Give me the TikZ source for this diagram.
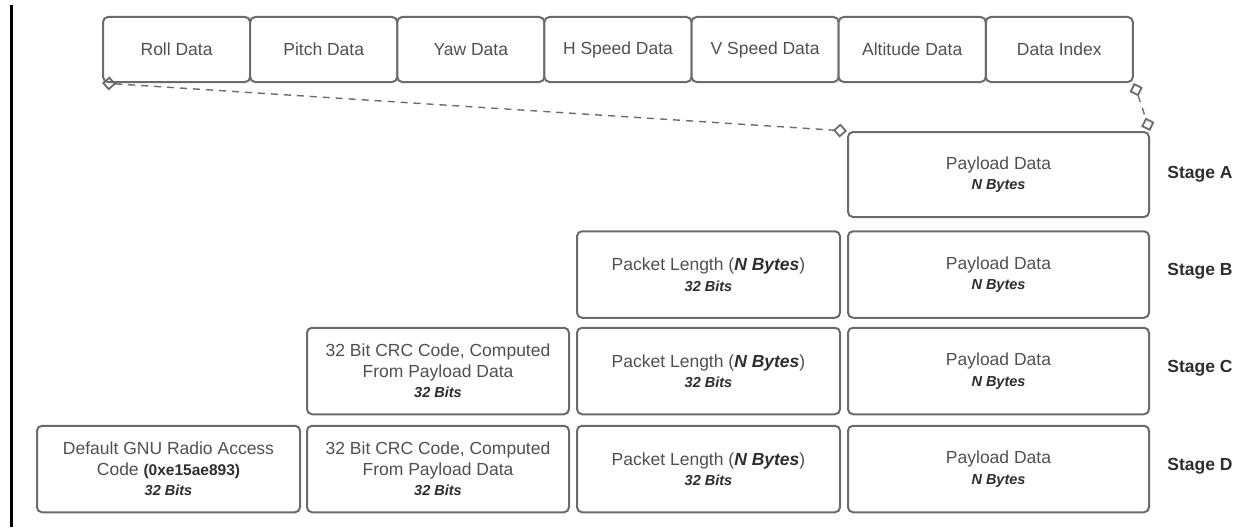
\documentclass[tikz,border=0pt]{standalone}
\usepackage{fontspec}
\setmainfont{Liberation Sans}
\usetikzlibrary{arrows.meta}
\definecolor{boxline}{HTML}{6B6B6B}
\definecolor{txt}{HTML}{505050}
\definecolor{dark}{HTML}{2E2E2E}
\newcommand{\subln}[1]{{\bfseries\itshape\fontsize{14.5}{17}\selectfont\color{dark}#1}}
\newcommand{\bi}[1]{{\bfseries\itshape\color{dark}#1}}
\newcommand{\codetxt}[1]{{\bfseries\fontsize{15.5}{18}\selectfont\color{dark}#1}}
\tikzset{
  field/.style={draw=boxline, line width=2pt, rounded corners=5pt, fill=white,
    align=center, text=txt, font=\fontsize{17.5}{20.5}\selectfont, inner sep=0pt},
  toprow/.style={field, minimum width=147.1pt, minimum height=65pt},
  rowbox/.style={field, minimum height=86.5pt},
  stagelbl/.style={font=\bfseries\fontsize{17.5}{20}\selectfont, text=dark},
  dtip/.tip={Diamond[open,length=14pt,width=14pt,line width=1.8pt]},
  conn/.style={draw=boxline, line width=1.4pt, dash pattern=on 7pt off 6pt, dtip-dtip}
}
\begin{document}
\begin{tikzpicture}[x=1pt,y=-1pt]
\useasboundingbox (0,0) rectangle (1257,527);
% left rule
\draw[line width=3pt, black] (11.5,5) -- (11.5,527);
% top row
\node[toprow] (roll)  at (176.6,49.5) {Roll Data};
\node[toprow] (pitch) at (323.7,49.5) {Pitch Data};
\node[toprow] (yaw)   at (470.8,49.5) {Yaw Data};
\node[toprow] (hspd)  at (618.0,49.5) {H Speed Data};
\node[toprow] (vspd)  at (765.1,49.5) {V Speed Data};
\node[toprow] (alt)   at (912.2,49.5) {Altitude Data};
\node[toprow] (didx)  at (1059.3,49.5) {Data Index};
% stage A
\node[rowbox, minimum width=301pt, minimum height=85pt] (pA) at (998.5,174.5) {Payload Data\\\subln{N Bytes}};
% stage B
\node[rowbox, minimum width=301pt] (pB) at (998.5,274.5) {Payload Data\\\subln{N Bytes}};
\node[rowbox, minimum width=263pt] (lB) at (708.5,274.5) {Packet Length (\bi{N Bytes})\\\subln{32 Bits}};
% stage C
\node[rowbox, minimum width=301pt] (pC) at (998.5,371) {Payload Data\\\subln{N Bytes}};
\node[rowbox, minimum width=263pt] (lC) at (708.5,371) {Packet Length (\bi{N Bytes})\\\subln{32 Bits}};
\node[rowbox, minimum width=262pt] (cC) at (438,371) {32 Bit CRC Code, Computed\\From Payload Data\\\subln{32 Bits}};
% stage D
\node[rowbox, minimum width=301pt] (pD) at (998.5,469) {Payload Data\\\subln{N Bytes}};
\node[rowbox, minimum width=263pt] (lD) at (708.5,469) {Packet Length (\bi{N Bytes})\\\subln{32 Bits}};
\node[rowbox, minimum width=262pt] (cD) at (438,469) {32 Bit CRC Code, Computed\\From Payload Data\\\subln{32 Bits}};
\node[rowbox, minimum width=263pt] (gD) at (168.5,469) {Default GNU Radio Access\\Code \codetxt{(0xe15ae893)}\\\subln{32 Bits}};
% stage labels
\node[stagelbl] (sA) at (1200,174.5) {Stage A};
\node[stagelbl] (sB) at (1200,271) {Stage B};
\node[stagelbl] (sC) at (1200,368) {Stage C};
\node[stagelbl] (sD) at (1200,466) {Stage D};
% expansion connectors
\draw[conn] (roll.south west) -- (pA.north west);
\draw[conn] (didx.south east) -- (pA.north east);
\end{tikzpicture}
\end{document}
